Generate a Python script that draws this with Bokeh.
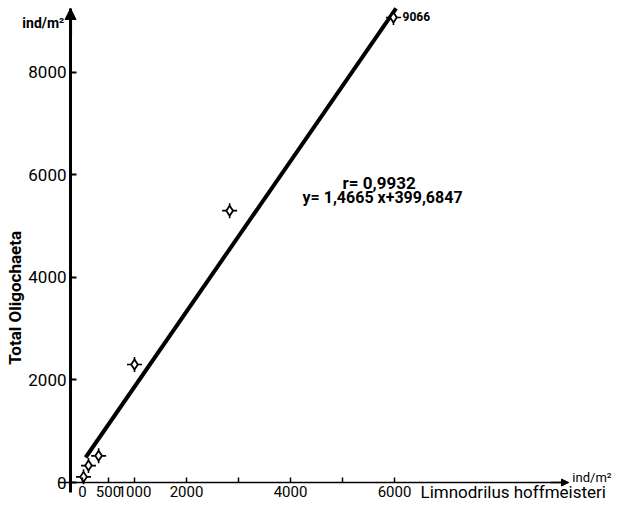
import math
from bokeh.plotting import figure
from bokeh.models import Range1d, FixedTicker, Label, Arrow, NormalHead, ColumnDataSource
from bokeh.embed import file_html
from bokeh.resources import INLINE

# Data
limnodrilus = [20, 115, 310, 1000, 2830, 5980]
total_oligochaeta = [110, 330, 520, 2300, 5300, 9066]
x_ticks = [0, 500, 1000, 2000, 3000, 4000, 5000, 6000]
x_tick_labels = {3000: "", 5000: ""}
y_ticks = [0, 2000, 4000, 6000, 8000]
slope = 1.4665
intercept = 399.6847
line_x = [60, 6030]
line_y = [slope * v + intercept for v in line_x]

FONT = "Roboto"
Y_AXIS_AT = -230
X_AXIS_AT = 0

p = figure(width=615, height=505,
           min_border_left=0, min_border_right=0, min_border_top=0, min_border_bottom=0,
           x_range=Range1d(-1577, 10250), y_range=Range1d(-448, 9396),
           output_backend="svg", toolbar_location=None, title=None)
p.outline_line_color = None
p.grid.visible = False
p.background_fill_color = "white"
p.border_fill_color = "white"

# y axis
ya = p.yaxis[0]
ya.fixed_location = Y_AXIS_AT
ya.bounds = (-200, 9240)
ya.ticker = FixedTicker(ticks=y_ticks)
ya.major_label_text_font = FONT
ya.major_label_text_font_size = "17px"
ya.major_label_text_color = "black"
ya.major_tick_in = 6
ya.major_tick_out = 0
ya.minor_tick_in = 0
ya.minor_tick_out = 0
ya.axis_line_width = 3
ya.major_tick_line_width = 2
ya.major_label_standoff = 4

# x axis
xa = p.xaxis[0]
xa.fixed_location = X_AXIS_AT
xa.bounds = (-460, 9346)
xa.ticker = FixedTicker(ticks=x_ticks)
xa.major_label_overrides = x_tick_labels
xa.major_label_text_font = FONT
xa.major_label_text_font_size = "15px"
xa.major_label_text_color = "black"
xa.major_tick_in = 5
xa.major_tick_out = 0
xa.minor_tick_in = 0
xa.minor_tick_out = 0
xa.axis_line_width = 1.5
xa.major_tick_line_width = 1.5
xa.major_label_standoff = 3

# arrows on axes
p.add_layout(Arrow(end=NormalHead(size=11, fill_color="black", line_color="black"),
                   x_start=Y_AXIS_AT, y_start=8700, x_end=Y_AXIS_AT, y_end=9240,
                   line_width=3, line_color="black"))
p.add_layout(Arrow(end=NormalHead(size=7, fill_color="black", line_color="black"),
                   x_start=9000, y_start=X_AXIS_AT, x_end=9346, y_end=X_AXIS_AT,
                   line_width=1.5, line_color="black"))

# regression line
p.line(line_x, line_y, line_width=4, line_color="black")

# points
src = ColumnDataSource(dict(x=limnodrilus, y=total_oligochaeta))
p.scatter("x", "y", source=src, marker="cross", size=15, line_width=1.6, line_color="black")
p.scatter("x", "y", source=src, marker="diamond", size=10, line_width=1.8,
          line_color="black", fill_color="white")

def lab(x, y, text, size, bold=False, align="left", baseline="middle", angle=0):
    p.add_layout(Label(x=x, y=y, text=text, text_font=FONT, text_font_size=size,
                       text_font_style="bold" if bold else "normal", angle=angle,
                       text_align=align, text_baseline=baseline, text_color="black"))

lab(6154, 9084, "9066", "12px", bold=True)
lab(5000, 5848, "r= 0,9932", "17px", bold=True)
lab(4231, 5556, "y= 1,4665 x+399,6847", "16px", bold=True)
lab(-350, 8960, "ind/m²", "14px", bold=True, align="right")
lab(9420, 90, "ind/m²", "13px")
lab(6500, -190, "Limnodrilus hoffmeisteri", "17px")
lab(-1300, 3600, "Total Oligochaeta", "17px", bold=True, align="center", angle=math.pi / 2)

open("out.html", "w").write(file_html(p, INLINE))
